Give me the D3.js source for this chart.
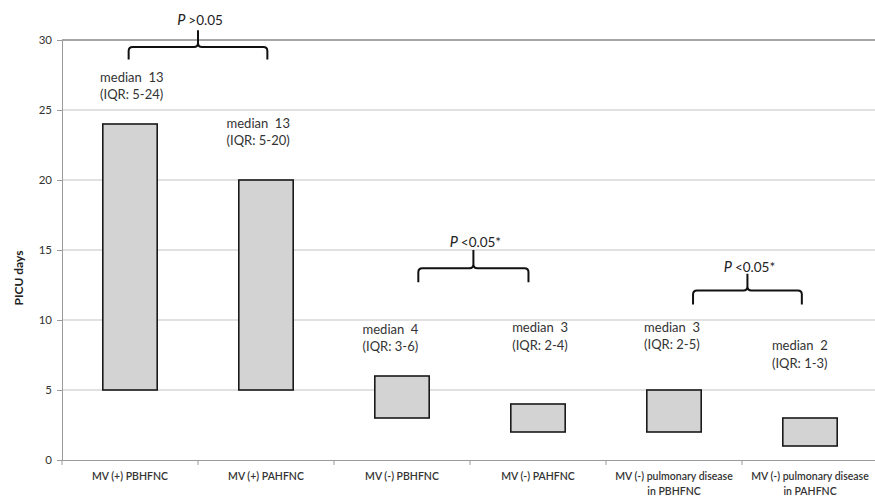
<!DOCTYPE html>
<html>
<head>
<meta charset="utf-8">
<script src="https://cdn.jsdelivr.net/npm/d3@7"></script>
<style>
  body { margin: 0; background: #fff; }
  svg { font-family: Lato, "Open Sans", sans-serif; }
</style>
</head>
<body>
<div class="chart"></div>
<script>
// data
const categories = ['MV (+) PBHFNC', 'MV (+) PAHFNC', 'MV (-) PBHFNC', 'MV (-) PAHFNC',
                    'MV (-) pulmonary disease|in PBHFNC', 'MV (-) pulmonary disease|in PAHFNC'];
const iqrLow  = [5, 5, 3, 2, 2, 1];
const iqrHigh = [24, 20, 6, 4, 5, 3];
const medians = [13, 13, 4, 3, 3, 2];
const yTicks = [0, 5, 10, 15, 20, 25, 30];
const pLabels = ['>0.05', '<0.05*', '<0.05*'];
const pPairs = [[0, 1], [2, 3], [4, 5]];

const data = categories.map((c, i) => ({cat: c, low: iqrLow[i], high: iqrHigh[i], median: medians[i]}));

const width = 875, height = 498;
const margin = {top: 40, right: -3, bottom: 38, left: 62};
const w = width - margin.left - margin.right;
const h = height - margin.top - margin.bottom;

const svg = d3.select('.chart').append('svg')
  .attr('width', width).attr('height', height);
const g = svg.append('g').attr('transform', `translate(${margin.left},${margin.top})`);

const x = d3.scaleBand().domain(categories).range([0, w]);
const y = d3.scaleLinear().domain([0, 30]).range([h, 0]);

// grid
g.append('g').selectAll('line').data(yTicks.filter(d => d > 0)).join('line')
  .attr('x1', 0).attr('x2', w)
  .attr('y1', d => y(d)).attr('y2', d => y(d))
  .attr('stroke', d => d === 30 ? '#8a8a8a' : '#c4c4c4')
  .attr('stroke-width', d => d === 30 ? 1.5 : 1.2);

// y axis
const yAxis = g.append('g').call(d3.axisLeft(y).tickValues(yTicks).tickSize(5).tickPadding(5));
yAxis.select('.domain').attr('stroke', '#9a9a9a');
yAxis.selectAll('.tick line').attr('stroke', '#9a9a9a');
yAxis.selectAll('.tick text').attr('font-size', 11.5).attr('fill', '#333').attr('font-family', 'Lato, sans-serif');

// x axis
const xAxis = g.append('g').attr('transform', `translate(0,${h})`)
  .call(d3.axisBottom(x).tickSize(0).tickFormat(''));
xAxis.select('.domain').attr('stroke', '#9a9a9a');
g.append('g').selectAll('line').data(categories).join('line')
  .attr('x1', d => x(d)).attr('x2', d => x(d))
  .attr('y1', h).attr('y2', h + 5).attr('stroke', '#9a9a9a');

const xl = g.append('g').selectAll('text').data(categories).join('text')
  .attr('x', d => x(d) + x.bandwidth() / 2)
  .attr('y', h + 20)
  .attr('text-anchor', 'middle')
  .attr('font-size', 10.5).attr('font-weight', 600).attr('fill', '#333');
xl.each(function(d) {
  const parts = d.split('|');
  const t = d3.select(this);
  parts.forEach((p, i) => t.append('tspan')
    .attr('x', x(d) + x.bandwidth() / 2).attr('dy', i === 0 ? 0 : 14.5).text(p));
});

// y title
svg.append('text')
  .attr('transform', `translate(23,278) rotate(-90)`)
  .attr('text-anchor', 'middle')
  .attr('font-size', 12).attr('font-weight', 'bold').attr('fill', '#222')
  .text('PICU days');

// bars (IQR floating)
const bw = x.bandwidth() * 0.4;
g.append('g').selectAll('rect').data(data).join('rect')
  .attr('x', d => x(d.cat) + (x.bandwidth() - bw) / 2)
  .attr('y', d => y(d.high))
  .attr('width', bw)
  .attr('height', d => y(d.low) - y(d.high))
  .attr('fill', '#d3d3d3')
  .attr('stroke', '#1a1a1a')
  .attr('stroke-width', 1.6);

// median / IQR labels
const labelPos = [[0.28, 27.35], [0.21, 24.05], [0.21, 9.35], [0.31, 9.45], [0.28, 9.5], [0.22, 8.15]];
const lab = g.append('g').selectAll('text').data(data).join('text')
  .attr('font-size', 13).attr('fill', '#333');
lab.each(function(d, i) {
  const t = d3.select(this);
  const lx = x(d.cat) + x.bandwidth() * labelPos[i][0];
  const ly = y(labelPos[i][1]) + 4.5;
  t.append('tspan').attr('x', lx).attr('y', ly).attr('xml:space', 'preserve').text(`median  ${d.median}`);
  t.append('tspan').attr('x', lx).attr('y', ly + 17.5).text(`(IQR: ${d.low}-${d.high})`);
});

// brackets with P values
const brPos = [
  {x0: -0.01, x1: 0.01, top: 29.5, end: 28.6, tip: 30.7, text: 31.4},
  {x0: 0.12, x1: -0.07, top: 13.7, end: 12.7, tip: 15.0, text: 15.6},
  {x0: 0.14, x1: -0.06, top: 12.1, end: 11.1, tip: 13.3, text: 13.8}
];
pPairs.forEach((pr, i) => {
  const b = brPos[i];
  const xa = x(categories[pr[0]]) + x.bandwidth() * (0.5 + b.x0);
  const xb = x(categories[pr[1]]) + x.bandwidth() * (0.5 + b.x1);
  const xm = (xa + xb) / 2;
  const yt = y(b.top), ye = y(b.end), yp = y(b.tip);
  const r = 4;
  const path = d3.path();
  path.moveTo(xa, ye);
  path.lineTo(xa, yt + r);
  path.quadraticCurveTo(xa, yt, xa + r, yt);
  path.lineTo(xm - r, yt);
  path.quadraticCurveTo(xm, yt, xm, yt - r);
  path.lineTo(xm, yp);
  path.moveTo(xm, yt - r);
  path.quadraticCurveTo(xm, yt, xm + r, yt);
  path.lineTo(xb - r, yt);
  path.quadraticCurveTo(xb, yt, xb, yt + r);
  path.lineTo(xb, ye);
  g.append('path').attr('d', path.toString())
    .attr('fill', 'none').attr('stroke', '#111').attr('stroke-width', 2);
  const t = g.append('text').attr('x', xm + 2).attr('y', y(b.text) + 5)
    .attr('text-anchor', 'middle').attr('font-size', 13.5).attr('fill', '#222');
  t.append('tspan').attr('font-style', 'italic').attr('font-size', 14.5).text('P ');
  t.append('tspan').text(pLabels[i]);
});
</script>
</body>
</html>
